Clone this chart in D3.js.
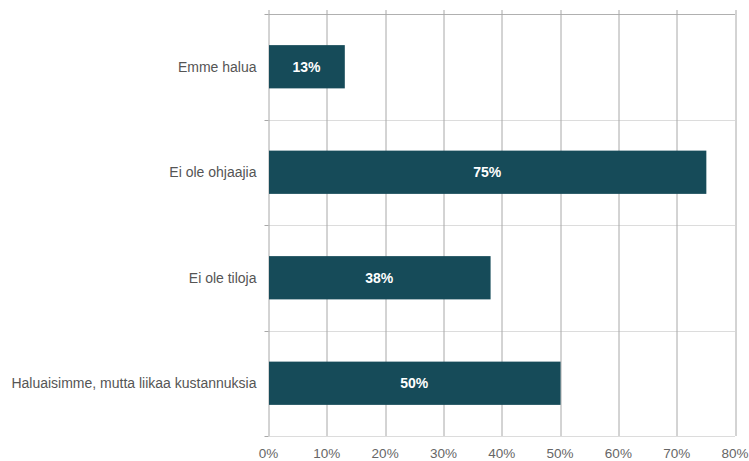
<!DOCTYPE html>
<html>
<head>
<meta charset="utf-8">
<script src="https://cdn.jsdelivr.net/npm/d3@7"></script>
<style>
  html, body { margin: 0; padding: 0; background: #fff; }
  svg { display: block; font-family: "Liberation Sans", Arial, Helvetica, sans-serif; }
</style>
</head>
<body>
<svg id="chart" width="749" height="461"></svg>
<script>
// Survey answers (share of respondents)
const categories = ["Emme halua", "Ei ole ohjaajia", "Ei ole tiloja", "Haluaisimme, mutta liikaa kustannuksia"];
const values = [0.13, 0.75, 0.38, 0.50];
const valueLabels = ["13%", "75%", "38%", "50%"];
const xTicks = [0, 0.1, 0.2, 0.3, 0.4, 0.5, 0.6, 0.7, 0.8];

const svg = d3.select("#chart");
const margin = { top: 14, right: 14, bottom: 25, left: 268.5 };
const W = 749, H = 461;
const innerW = W - margin.left - margin.right;
const innerH = H - margin.top - margin.bottom;

const x = d3.scaleLinear().domain([0, 0.8]).range([0, innerW]);
const y = d3.scaleBand().domain(categories).range([0, innerH]).paddingInner(0).paddingOuter(0);
const barH = y.bandwidth() * 0.41;

const g = svg.append("g").attr("transform", `translate(${margin.left},${margin.top})`);

// horizontal separators between categories
const bounds = categories.map(c => y(c)).concat([innerH]);
g.selectAll(".hsep").data(bounds).join("line")
  .attr("x1", 0).attr("x2", x(0.8))
  .attr("y1", d => Math.round(d) + 0.5).attr("y2", d => Math.round(d) + 0.5)
  .attr("stroke", (d, i) => i === 0 ? "#b0b0b0" : "#dcdcdc")
  .attr("stroke-width", 1);

// vertical gridlines
g.selectAll(".vgrid").data(xTicks).join("line")
  .attr("x1", d => Math.round(x(d)) + 0.5).attr("x2", d => Math.round(x(d)) + 0.5)
  .attr("y1", -4).attr("y2", innerH)
  .attr("stroke", "#a8a8a8").attr("stroke-width", 1);

// left tick marks at category boundaries
g.selectAll(".ytick").data(bounds).join("line")
  .attr("x1", -4).attr("x2", 0)
  .attr("y1", d => Math.round(d) + 0.5).attr("y2", d => Math.round(d) + 0.5)
  .attr("stroke", "#a8a8a8");

// bars
g.selectAll(".bar").data(values).join("rect")
  .attr("x", x(0) + 0.5)
  .attr("y", (d, i) => y(categories[i]) + (y.bandwidth() - barH) / 2)
  .attr("width", d => x(d) - x(0))
  .attr("height", barH)
  .attr("fill", "#164b59");

// value labels
g.selectAll(".vlab").data(values).join("text")
  .attr("x", d => x(d) / 2)
  .attr("y", (d, i) => y(categories[i]) + y.bandwidth() / 2)
  .attr("dy", "0.35em")
  .attr("text-anchor", "middle")
  .attr("fill", "#ffffff")
  .attr("font-size", 14)
  .attr("font-weight", "bold")
  .text((d, i) => valueLabels[i]);

// category labels
g.selectAll(".clab").data(categories).join("text")
  .attr("x", -12)
  .attr("y", d => y(d) + y.bandwidth() / 2)
  .attr("dy", "0.35em")
  .attr("text-anchor", "end")
  .attr("fill", "#555")
  .attr("font-size", 14)
  .text(d => d);

// x axis labels
const fmt = d3.format(".0%");
g.selectAll(".xlab").data(xTicks).join("text")
  .attr("x", d => x(d))
  .attr("y", innerH + 17)
  .attr("dy", "0.35em")
  .attr("text-anchor", "middle")
  .attr("fill", "#666")
  .attr("font-size", 13.5)
  .text(d => fmt(d));
</script>
</body>
</html>
